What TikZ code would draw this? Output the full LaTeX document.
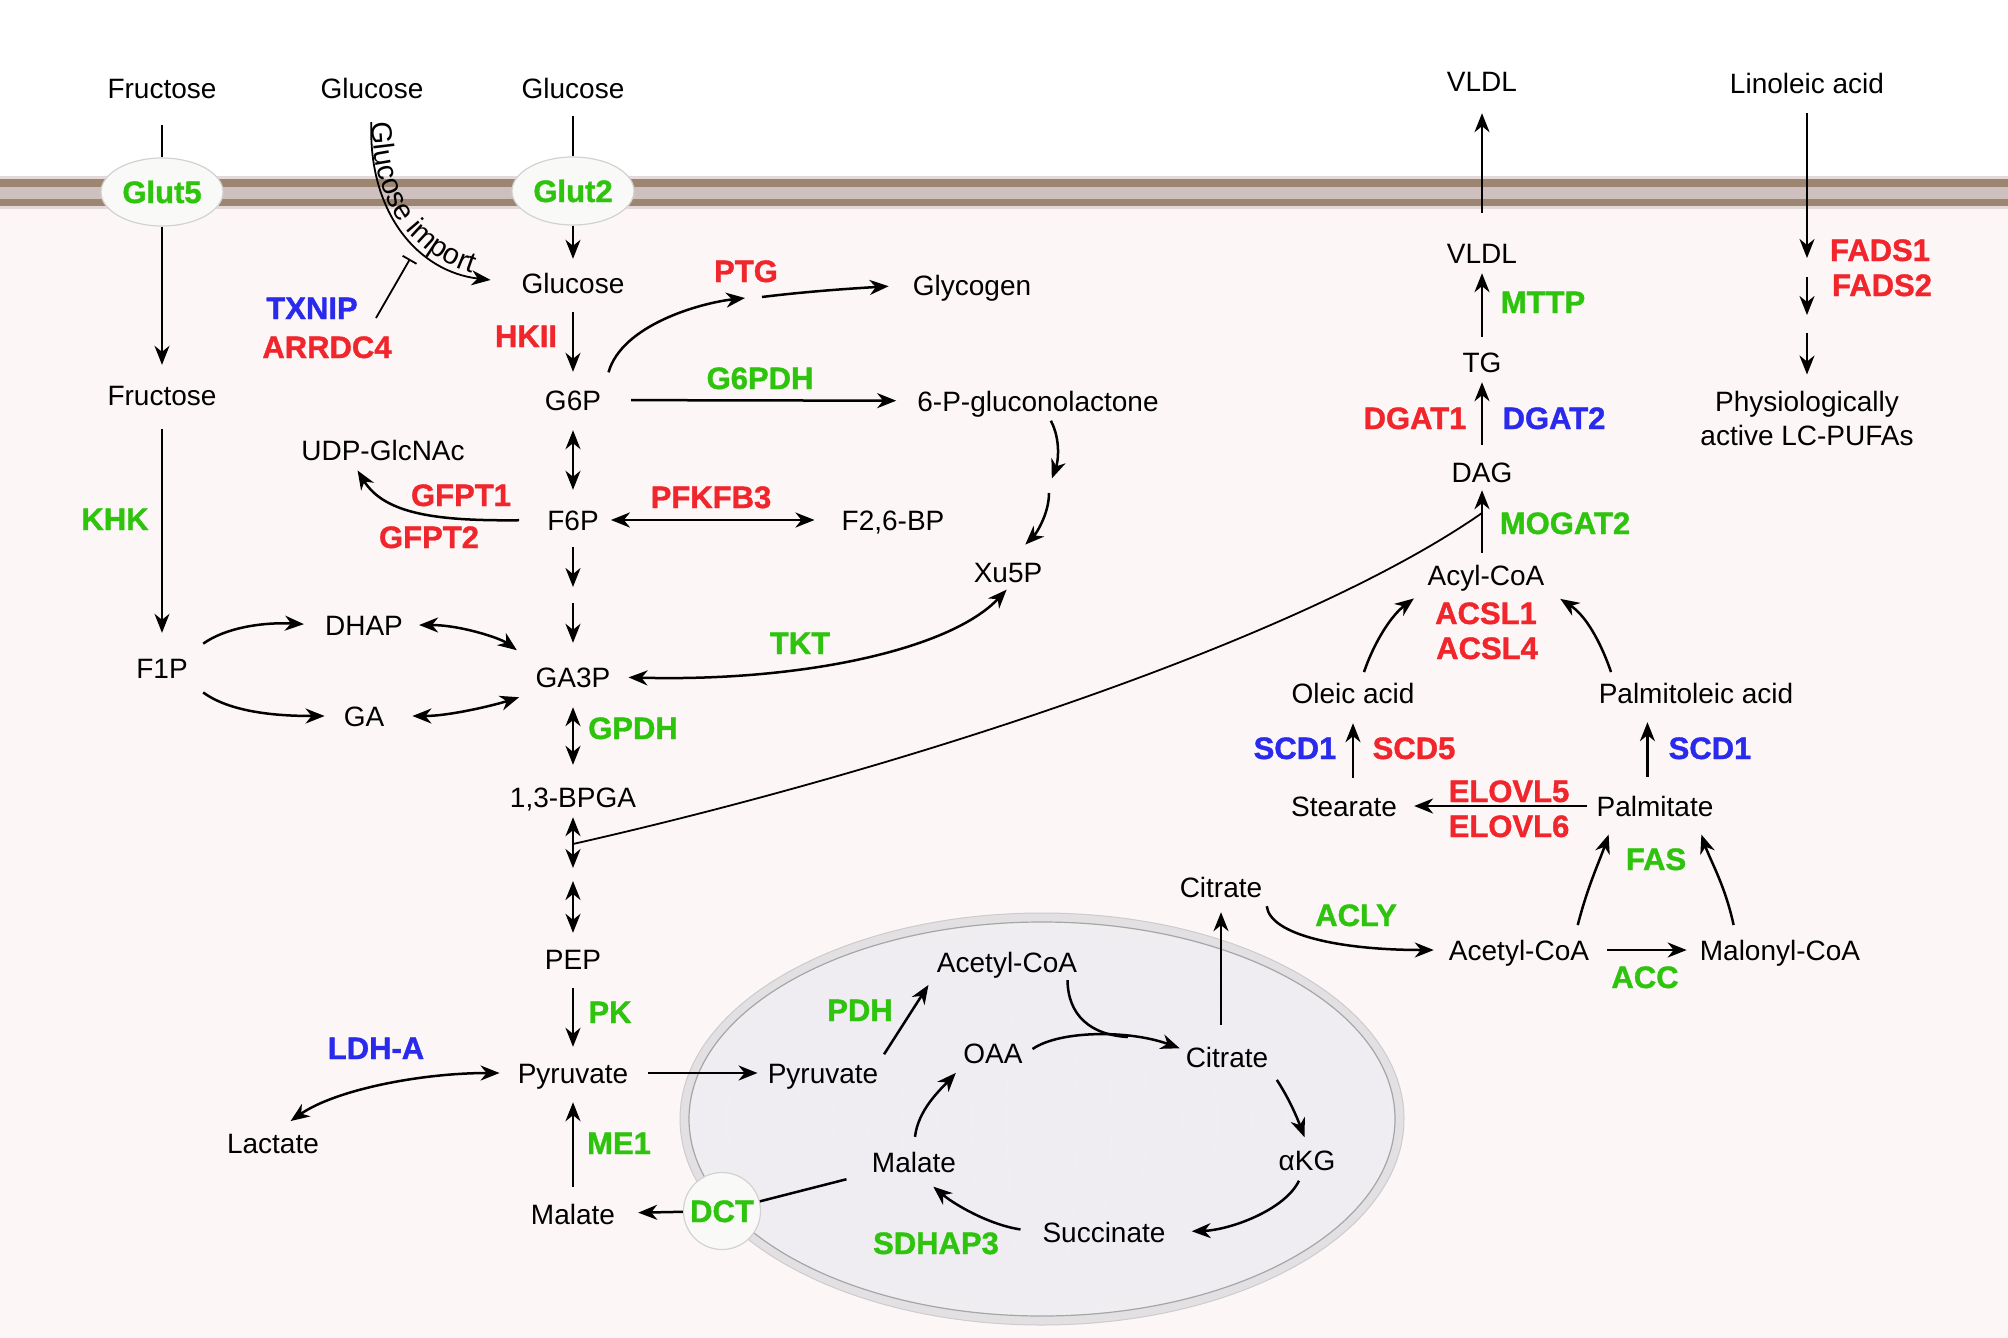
\documentclass[tikz,border=0pt]{standalone}
\usepackage{fontspec}
\setmainfont{Liberation Sans}[BoldFeatures={FakeBold=1.2}]
\usetikzlibrary{arrows.meta,shapes.geometric,decorations.text}
\definecolor{rosso}{RGB}{240,38,44}
\definecolor{verde}{RGB}{46,196,14}
\definecolor{blu}{RGB}{42,42,236}
\definecolor{citoplasma}{RGB}{252,247,246}
\definecolor{membscura}{RGB}{156,134,114}
\definecolor{memchiara}{RGB}{206,192,190}
\definecolor{mitofondo}{RGB}{239,237,241}
\definecolor{mitobordo}{RGB}{226,224,226}
\newcommand{\impfont}{\fontsize{29}{29}\selectfont}

\begin{document}
\begin{tikzpicture}[x=1pt,y=-1pt,
    metbase/.style={font=\fontsize{28}{34}\selectfont, inner xsep=4pt, inner ysep=6pt},
    met/.style={metbase, text height=20pt, text depth=0pt},
    enz/.style={font=\fontsize{31}{34}\selectfont\bfseries, inner sep=0pt, text height=22pt, text depth=0pt},
    fine/.style={line width=1.8pt},
    arr/.style={line width=2.5pt, -{Stealth[length=19pt,width=15pt,inset=6pt]}},
    farr/.style={fine, -{Stealth[length=19pt,width=15pt,inset=6pt]}},
    darr/.style={line width=2.5pt, {Stealth[length=19pt,width=15pt,inset=6pt]}-{Stealth[length=19pt,width=15pt,inset=6pt]}},
    porta/.style={draw=gray!35, line width=1.2pt, fill={rgb,255:red,249;green,249;blue,247}}]

    % Sfondo e membrana
    \useasboundingbox (0,0) rectangle (2008,1338);
    \fill[white] (0,0) rectangle (2008,1338);
    \fill[citoplasma] (0,205) rectangle (2008,1338);
    \fill[memchiara!60!white] (0,176) rectangle (2008,209);
    \fill[membscura] (0,179) rectangle (2008,187);
    \fill[memchiara] (0,187) rectangle (2008,199);
    \fill[membscura] (0,199) rectangle (2008,206);

    % Mitocondrio
    \fill[mitobordo] (1042,1119) ellipse (362 and 206);
    \draw[gray!40, line width=1pt] (1042,1119) ellipse (362 and 206);
    \fill[mitofondo] (1042,1119) ellipse (353 and 197);
    \begin{scope}
        \clip (1042,1119) ellipse (353 and 197);
        \foreach \k in {1,...,10} {
                \draw[gray!12, line width=0.8pt] (1042,1119) ellipse ({\k*35} and 197);
            }
    \end{scope}
    \draw[gray!70, line width=1.2pt] (1042,1119) ellipse (353 and 197);

    % Trasportatori
    \node[porta, ellipse, minimum width=122pt, minimum height=68pt, enz, text=verde] (glut5) at (162,192) {Glut5};
    \node[porta, ellipse, minimum width=122pt, minimum height=68pt, enz, text=verde] (glut2) at (573,191) {Glut2};
    \node[porta, circle, minimum size=77pt, enz, text=verde] (dct) at (722,1211) {DCT};

    % Metaboliti
    \foreach \n/\x/\y/\lab in {fru0/162/88/Fructose, gluA/372/88/Glucose, gluB/573/88/Glucose,
            fru1/162/395/Fructose, glu2/573/283/Glucose, g6p/573/400/G6P, f6p/573/520/F6P,
            ga3p/573/677/GA3P, bpga/573/797/{1,3-BPGA}, pep/573/959/PEP, pyr/573/1073/Pyruvate,
            mal/573/1214/Malate, lac/273/1143/Lactate, f1p/162/668/F1P, dhap/364/625/DHAP,
            ga/364/716/GA, udp/383/450/UDP-GlcNAc, glycogen/972/285/Glycogen,
            pgl/1038/401/6-P-gluconolactone, f26bp/893/520/{F2,6-BP}, xu5p/1008/572/Xu5P,
            mpyr/823/1073/Pyruvate, acoa/1007/962/Acetyl-CoA, oaa/993/1053/OAA,
            cit/1227/1057/Citrate, akg/1307/1160/αKG, suc/1104/1232/Succinate,
            mmal/914/1162/Malate, cito/1221/887/Citrate, cacoa/1519/950/Acetyl-CoA,
            malcoa/1780/950/Malonyl-CoA, palm/1655/806/Palmitate, stea/1344/806/Stearate,
            oleic/1353/693/Oleic acid, palmo/1696/693/Palmitoleic acid, acyl/1486/575/Acyl-CoA,
            dag/1482/472/DAG, tg/1482/362/TG, vldl/1482/253/VLDL, vldlo/1482/82/VLDL,
            lin/1807/83/Linoleic acid} {
            \node[met] (\n) at (\x,\y) {\lab};
        }
    \node[metbase, align=center] (pufa) at (1807,418) {Physiologically\\active LC-PUFAs};

    % Enzimi
    \foreach \n/\x/\y/\col/\lab in {txnip/312/308/blu/TXNIP, arrdc4/327/347/rosso/ARRDC4,
            hkii/526/336/rosso/HKII, ptg/746/271/rosso/PTG, g6pdh/760/378/verde/G6PDH,
            gfpt1/461/495/rosso/GFPT1, gfpt2/429/537/rosso/GFPT2, pfkfb3/711/497/rosso/PFKFB3,
            khk/115/519/verde/KHK, tkt/800/643/verde/TKT, gpdh/633/728/verde/GPDH,
            pk/610/1012/verde/PK, ldha/376/1048/blu/LDH-A, me1/619/1143/verde/ME1,
            pdh/860/1010/verde/PDH, sdhap3/936/1243/verde/SDHAP3, acly/1356/915/verde/ACLY,
            acc/1645/977/verde/ACC, fas/1656/859/verde/FAS, elovl5/1509/791/rosso/ELOVL5,
            elovl6/1509/826/rosso/ELOVL6, scd1a/1295/748/blu/SCD1, scd5/1414/748/rosso/SCD5,
            scd1b/1710/748/blu/SCD1, acsl1/1486/613/rosso/ACSL1, acsl4/1487/648/rosso/ACSL4,
            mogat2/1565/523/verde/MOGAT2, dgat1/1415/418/rosso/DGAT1, dgat2/1554/418/blu/DGAT2,
            mttp/1543/302/verde/MTTP, fads1/1880/250/rosso/FADS1, fads2/1882/285/rosso/FADS2} {
            \node[enz, text=\col] (\n) at (\x,\y) {\lab};
        }

    % Punti di appoggio
    \coordinate (inhA) at (376,318);
    \coordinate (inhB) at (410,259);
    \coordinate (ptgA) at (745,298);
    \coordinate (ptgB) at (762,297);
    \coordinate (pglgap) at (1049,486);
    \coordinate (f6pgap) at (573,595);
    \coordinate (bpgagap) at (573,874);
    \coordinate (lipid) at (573,844);
    \coordinate (dagjoin) at (1482,513);
    \coordinate (merge) at (1128,1037);
    \coordinate (fgap1) at (1807,268);
    \coordinate (fgap2) at (1807,324);

    % Ingresso attraverso la membrana
    \draw[fine, shorten <=21pt] (fru0) -- (glut5);
    \draw[farr, shorten >=14pt] (glut5) -- (fru1);
    \draw[farr, shorten <=18pt, shorten >=19pt] (fru1) -- (f1p);
    \draw[fine, shorten <=12pt] (gluB) -- (glut2);
    \draw[farr, shorten >=8pt] (glut2) -- (glu2);
    \draw[farr, shorten <=18pt, shorten >=27pt] (gluA.south) .. controls (368,215) and (420,272) .. (glu2.west);
    \path[decorate, decoration={text along path, text={|\impfont|Glucose import}, text align={left indent=18pt}}]
        (gluA.south) .. controls (368,215) and (420,272) .. (glu2.west);
    \draw[fine, -{Bar[width=16pt]}] (inhA) -- (inhB);

    % Frecce dritte
    \foreach \a/\b/\s/\e in {glu2/g6p/13/12, pep/pyr/13/10, mal/pyr/11/13, dag/tg/11/4,
            tg/vldl/9/4, vldl/vldlo/24/15, g6p/pgl/26/17, pyr/mpyr/16/6, cacoa/malcoa/14/9,
            palm/stea/5/13, f6p/f6pgap/11/8, f6pgap/ga3p/8/18, lin/fgap1/14/10,
            fgap1/fgap2/9/9, fgap2/pufa/9/10, dct/mal/0/19} {
            \draw[arr, shorten <=\s pt, shorten >=\e pt] (\a) -- (\b);
        }
    \foreach \a/\b/\s/\e in {g6p/f6p/14/14, ga3p/bpga/14/16, bpga/bpgagap/4/6,
            bpgagap/pep/7/10, f6p/f26bp/8/23} {
            \draw[darr, shorten <=\s pt, shorten >=\e pt] (\a) -- (\b);
        }
    \draw[arr, shorten <=13pt, shorten >=13pt] (palm.115) -- (palm.115 |- palmo.south);
    \draw[arr, shorten <=12pt, shorten >=14pt] (oleic.south |- stea.north) -- (oleic.south);
    \draw[arr, shorten <=6pt, shorten >=2pt] (dag.south |- acyl.north) -- (dag.south);
    \draw[arr, shorten <=16pt, shorten >=9pt] (cito.south |- cit.north) -- (cito.south);
    \draw[arr, shorten <=3pt, shorten >=8pt] (mpyr.north east) -- (acoa.south west);
    \draw[line width=2.5pt, shorten <=22pt] (mmal) -- (dct);

    % Frecce curve
    \draw[arr, shorten <=12pt] (g6p.north east) .. controls (622,325) and (700,303) .. (ptgA);
    \draw[arr, shorten >=20pt] (ptgB) .. controls (810,291) and (860,288) .. (glycogen.west);
    \draw[arr, shorten <=4pt, shorten >=8pt] (pgl.south -| pglgap) .. controls (1061,440) and (1058,462) .. (pglgap);
    \draw[arr, shorten <=7pt, shorten >=16pt] (pglgap) .. controls (1049,515) and (1035,535) .. (xu5p.70);
    \draw[arr, shorten <=24pt, shorten >=5pt] (f6p.west) .. controls (440,521) and (385,515) .. (udp.210);
    \draw[arr, shorten <=14pt, shorten >=17pt] (f1p.north east) .. controls (225,628) and (262,622) .. (dhap.west);
    \draw[arr, shorten <=14pt, shorten >=15pt] (f1p.south east) .. controls (230,712) and (275,716) .. (ga.west);
    \draw[darr, shorten <=12pt, shorten >=18pt] (dhap.east) .. controls (460,625) and (500,638) .. (ga3p.north west);
    \draw[darr, shorten <=24pt, shorten >=13pt] (ga.east) .. controls (450,716) and (495,705) .. (ga3p.south west);
    \draw[darr, shorten <=14pt, shorten >=2pt] (ga3p.east) .. controls (800,682) and (950,650) .. (xu5p.south);
    \draw[darr, shorten <=14pt, shorten >=10pt] (pyr.west) .. controls (420,1073) and (335,1090) .. (lac.60);
    \draw[fine] (lipid) .. controls (900,770) and (1300,640) .. (dagjoin);

    % Ciclo di Krebs
    \draw[arr, shorten <=7pt, shorten >=2pt] (oaa.east) .. controls (1060,1030) and (1130,1030) .. (cit.170);
    \draw[line width=2.5pt, shorten <=2pt] (acoa.-15) .. controls (1068,1015) and (1090,1035) .. (merge);
    \draw[arr, shorten <=8pt, shorten >=7pt] (cit.south east) .. controls (1290,1100) and (1298,1120) .. (akg.north);
    \draw[arr, shorten <=5pt, shorten >=22pt] (akg.-110) .. controls (1285,1210) and (1230,1230) .. (suc.east);
    \draw[arr, shorten <=18pt, shorten >=13pt] (suc.west) .. controls (990,1225) and (955,1205) .. (mmal.-60);
    \draw[arr, shorten <=9pt, shorten >=5pt] (mmal.north) .. controls (918,1110) and (940,1090) .. (oaa.south west);

    % Lipidi
    \draw[arr, shorten <=3pt, shorten >=11pt] (cito.south east) .. controls (1270,935) and (1340,950) .. (cacoa.west);
    \draw[arr, shorten <=9pt, shorten >=13pt] (cacoa.16) .. controls (1588,885) and (1600,860) .. (palm.201);
    \draw[arr, shorten <=9pt, shorten >=13pt] (malcoa.160) .. controls (1725,885) and (1710,860) .. (palm.-21);
    \draw[arr, shorten <=5pt, shorten >=12pt] (oleic.60) .. controls (1375,640) and (1392,615) .. (acyl.south west);
    \draw[arr, shorten <=5pt, shorten >=14pt] (palmo.169) .. controls (1600,640) and (1585,615) .. (acyl.south east);
\end{tikzpicture}
\end{document}
